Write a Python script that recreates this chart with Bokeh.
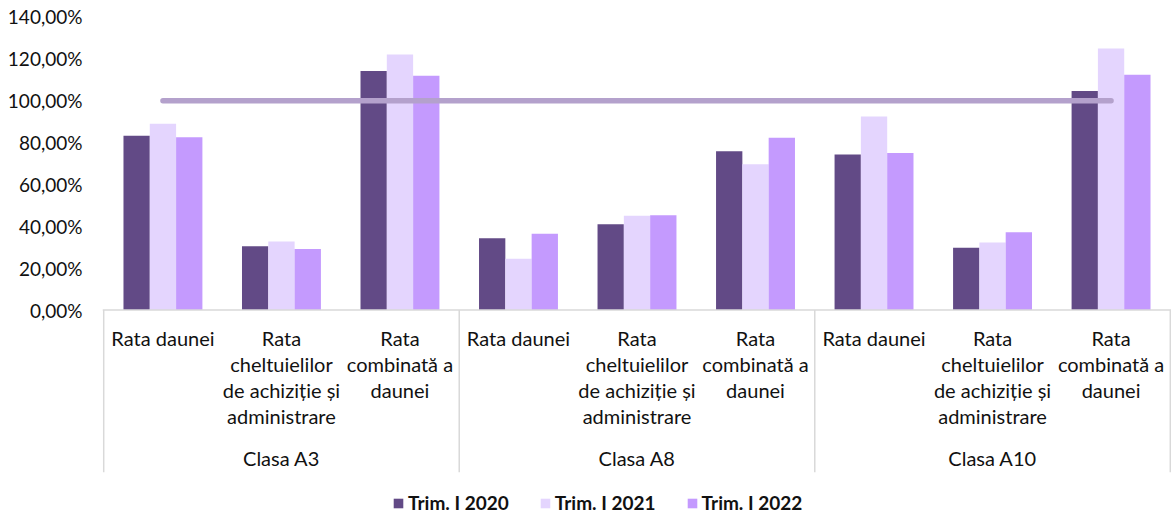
from bokeh.plotting import figure
from bokeh.models import ColumnDataSource, FactorRange, FixedTicker, Span, Legend, LegendItem
from bokeh.transform import dodge
from bokeh.core.properties import value
from bokeh.embed import file_html
from bokeh.resources import INLINE

# ---------------- data ----------------
classes = ["Clasa A3", "Clasa A8", "Clasa A10"]
metrics = ["Rata daunei",
           "Rata cheltuielilor de achiziție și administrare",
           "Rata combinată a daunei"]
metric_label_lines = [["Rata daunei"],
                      ["Rata", "cheltuielilor", "de achiziție și", "administrare"],
                      ["Rata", "combinată a", "daunei"]]
series_names = ["Trim. I 2020", "Trim. I 2021", "Trim. I 2022"]
trim_2020 = [83.3, 30.5, 114.2, 34.3, 41.0, 75.8, 74.3, 29.7, 104.6]
trim_2021 = [89.0, 32.7, 122.1, 24.5, 45.0, 69.6, 92.5, 32.3, 125.0]
trim_2022 = [82.5, 29.2, 111.9, 36.4, 45.3, 82.3, 75.0, 37.2, 112.4]
threshold = 100.0
y_ticks = [0, 20, 40, 60, 80, 100, 120, 140]
y_tick_labels = ["0,00%", "20,00%", "40,00%", "60,00%", "80,00%",
                 "100,00%", "120,00%", "140,00%"]

colors = ["#624a86", "#e4d5fe", "#c49afe"]
line_color = "#b4a1cc"
text_color = "#111111"
sep_color = "#d9d9d9"
FONT = "Lato"

# ---------------- layout constants (pixels) ----------------
W, H = 1171, 515
LEFT, TOP = 102, 16
PX = 2.0929          # pixels per percentage point
ZERO = 309.5         # y pixel of 0 %

def val(py):
    return (ZERO - py) / PX

factors = [(c, m) for c in classes for m in metrics]

src = ColumnDataSource(dict(x=factors, a=trim_2020, b=trim_2021, c=trim_2022))

p = figure(width=W, height=H, output_backend="svg", toolbar_location=None,
           x_range=FactorRange(*factors, group_padding=0, factor_padding=0,
                               subgroup_padding=0, range_padding=0.01,
                               range_padding_units="absolute"),
           y_range=(val(H), val(TOP)), x_axis_location=None,
           min_border_left=LEFT, min_border_top=TOP,
           min_border_right=0, min_border_bottom=0)

p.outline_line_color = None
p.grid.grid_line_color = None
p.background_fill_color = "white"
p.border_fill_color = "white"

ax = p.yaxis[0]
ax.ticker = FixedTicker(ticks=y_ticks)
ax.major_label_overrides = {t: l for t, l in zip(y_ticks, y_tick_labels)}
ax.axis_line_color = None
ax.major_tick_line_color = None
ax.minor_tick_line_color = None
ax.major_tick_in = 0
ax.major_tick_out = 0
ax.major_label_standoff = 20
ax.major_label_text_font = FONT
ax.major_label_text_font_size = "19px"
ax.major_label_text_color = text_color

# axis line and category table separators
p.add_layout(Span(location=0, dimension="width", line_color=sep_color, line_width=1.5))

sep_bottom = val(471.7)
left_bounds = ColumnDataSource(dict(x=[(c, metrics[0]) for c in classes]))
right_bound = ColumnDataSource(dict(x=[(classes[-1], metrics[-1])]))
p.segment(x0=dodge("x", -0.5, range=p.x_range), x1=dodge("x", -0.5, range=p.x_range),
          y0=0, y1=sep_bottom, source=left_bounds, line_color=sep_color, line_width=1.5)
p.segment(x0=dodge("x", 0.5, range=p.x_range), x1=dodge("x", 0.5, range=p.x_range),
          y0=0, y1=sep_bottom, source=right_bound, line_color=sep_color, line_width=1.5)

# bars
BW = 0.222
renderers = []
for key, off, col in zip(["a", "b", "c"], [-BW, 0, BW], colors):
    r = p.vbar(x=dodge("x", off, range=p.x_range), top=key, width=BW, bottom=0,
               source=src, fill_color=col, line_color=None)
    renderers.append(r)

# 100 % reference line
p.segment(x0=[factors[0]], x1=[factors[-1]], y0=[threshold], y1=[threshold],
          line_color=line_color, line_width=5.5, line_cap="round")

# category labels (wrapped, one glyph row per line)
LINE0, LINE_STEP = 337.3, 26.0
lx, ly, lt = [], [], []
for c in classes:
    for m, lines in zip(metrics, metric_label_lines):
        for i, ln in enumerate(lines):
            lx.append((c, m))
            ly.append(val(LINE0 + i * LINE_STEP))
            lt.append(ln)
p.text(x=lx, y=ly, text=lt, text_align="center", text_baseline="middle",
       text_font=value(FONT), text_font_size="20px", text_color=text_color)

p.text(x=classes, y=[val(457.7)] * len(classes), text=classes,
       text_align="center", text_baseline="middle",
       text_font=value(FONT), text_font_size="20px", text_color=text_color)

# legend
legend = Legend(items=[LegendItem(label=n, renderers=[r]) for n, r in zip(series_names, renderers)],
                orientation="horizontal", location=(290, 1),
                border_line_color=None, background_fill_alpha=0,
                padding=0, margin=0, spacing=30, label_standoff=4,
                glyph_width=12, glyph_height=12, label_height=12,
                label_text_font=FONT, label_text_font_style="bold",
                label_text_font_size="19px", label_text_color=text_color)
p.add_layout(legend, "center")

open("out.html", "w").write(file_html(p, INLINE))
